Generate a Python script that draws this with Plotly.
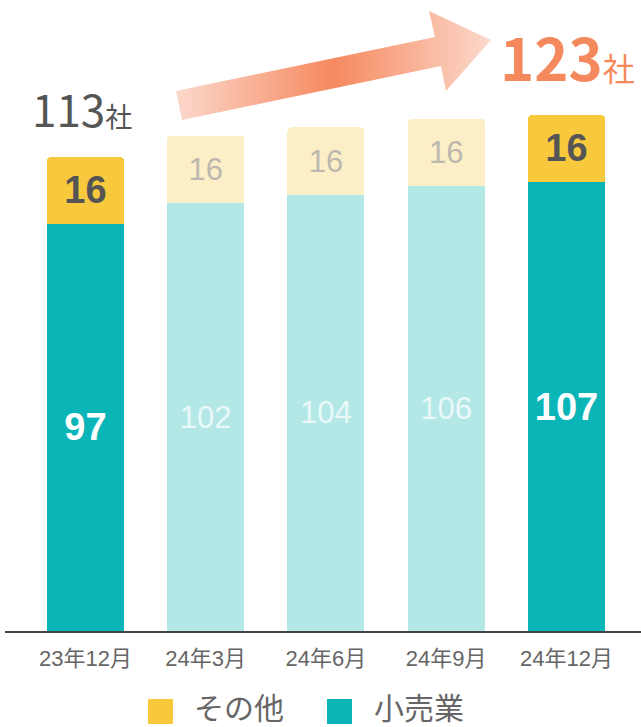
import plotly.graph_objects as go

# ---- data ----
categories = ["23年12月", "24年3月", "24年6月", "24年9月", "24年12月"]
retail = [97, 102, 104, 106, 107]      # 小売業
other = [16, 16, 16, 16, 16]           # その他
series_names = ["小売業", "その他"]
unit = "社"
highlight = [True, False, False, False, True]

# ---- styles ----
TEAL, TEAL_FADE = "#0ab5b7", "#b3e8e7"
YEL, YEL_FADE = "#f8c93c", "#fcefc7"
ORANGE = "#f5895e"
W, H = 641, 727
ML, MR, MT, MB = 5, 0, 0, 96
PW, PH = W - ML - MR, H - MT - MB

def px_x(p):
    return (p - ML) / PW

def px_y(p):
    return (H - MB - p) / PH

totals = [a + b for a, b in zip(retail, other)]

fig = go.Figure()

fig.add_trace(go.Bar(
    x=categories, y=retail, name=series_names[0],
    marker=dict(color=[TEAL if h else TEAL_FADE for h in highlight], line=dict(width=0)),
    text=[f"<b>{v}</b>" if h else f"{v}" for v, h in zip(retail, highlight)],
    texttemplate="%{text}",
    textposition="inside", insidetextanchor="middle", textangle=0,
    textfont=dict(family="Liberation Sans, Arial, sans-serif",
                  size=[38 if h else 31 for h in highlight],
                  color=["#ffffff" if h else "#eaf8f8" for h in highlight]),
    width=0.64, hoverinfo="skip", showlegend=False,
))
fig.add_trace(go.Bar(
    x=categories, y=other, name=series_names[1],
    marker=dict(color=[YEL if h else YEL_FADE for h in highlight], line=dict(width=0)),
    text=[f"<b>{v}</b>" if h else f"{v}" for v, h in zip(other, highlight)],
    texttemplate="%{text}",
    textposition="inside", insidetextanchor="middle", textangle=0,
    textfont=dict(family="Liberation Sans, Arial, sans-serif",
                  size=[38 if h else 31 for h in highlight],
                  color=["#555555" if h else "#bdb8ae" for h in highlight]),
    width=0.64, hoverinfo="skip", showlegend=False,
))

# decorative gradient arrow, drawn in a pixel-space overlay axis
arrow_x = [176, 435, 429, 491, 446, 441, 182, 176]
arrow_y = [91, 37, 11, 40, 91, 66, 120, 91]
fig.add_trace(go.Scatter(
    x=arrow_x, y=arrow_y, xaxis="x2", yaxis="y2",
    mode="lines", line=dict(width=0), fill="toself",
    fillgradient=dict(type="horizontal",
                      colorscale=[[0, "#fbd8cb"], [0.5, "#f6895f"], [1, "#fbd9cc"]]),
    showlegend=False, hoverinfo="skip",
))

# legend (drawn manually so the swatches can match the large squares)
legend_items = [(series_names[1], YEL, 148, 195), (series_names[0], TEAL, 327, 375)]
shapes = []
annotations = []
for name, col, sx, tx in legend_items:
    shapes.append(dict(type="rect", xref="paper", yref="paper",
                       x0=px_x(sx), x1=px_x(sx + 25), y0=px_y(724), y1=px_y(699),
                       fillcolor=col, line=dict(width=0), layer="above"))
    annotations.append(dict(text=name, xref="paper", yref="paper",
                            x=px_x(tx - 3), y=px_y(706), xanchor="left", yanchor="middle",
                            showarrow=False,
                            font=dict(family="Noto Sans CJK JP", size=30, color="#666666")))

annotations += [
    dict(text=f"{totals[0]}<span style='font-size:27px'>{unit}</span>",
         xref="paper", yref="paper", x=px_x(30), y=px_y(108),
         xanchor="left", yanchor="middle", showarrow=False,
         font=dict(family="Noto Sans CJK JP", size=44, color="#555555")),
    dict(text=f"<b>{totals[-1]}</b><span style='font-size:32px'>{unit}</span>",
         xref="paper", yref="paper", x=px_x(637), y=px_y(56),
         xanchor="right", yanchor="middle", showarrow=False,
         font=dict(family="Noto Sans CJK JP", size=58, color=ORANGE)),
]

fig.update_layout(
    width=W, height=H,
    margin=dict(l=ML, r=MR, t=MT, b=MB),
    paper_bgcolor="white", plot_bgcolor="white",
    barmode="stack", barcornerradius=4,
    showlegend=False,
    xaxis=dict(range=[-0.669, 4.62], showgrid=False, zeroline=False,
               showline=True, linecolor="#444444", linewidth=2, ticks="",
               ticklabelstandoff=7,
               tickfont=dict(family="Liberation Sans, Noto Sans CJK JP", size=22, color="#666666"),
               fixedrange=True),
    yaxis=dict(range=[0, PH / 4.196], visible=False, showgrid=False, fixedrange=True),
    xaxis2=dict(range=[ML, W - MR], overlaying="x", visible=False, fixedrange=True),
    yaxis2=dict(range=[H - MB, 0], overlaying="y", visible=False, fixedrange=True),
    shapes=shapes,
    annotations=annotations,
)

fig.write_html("out.html", config={"displayModeBar": False},
               post_script="document.body.style.margin='0';document.body.style.overflow='hidden';")
